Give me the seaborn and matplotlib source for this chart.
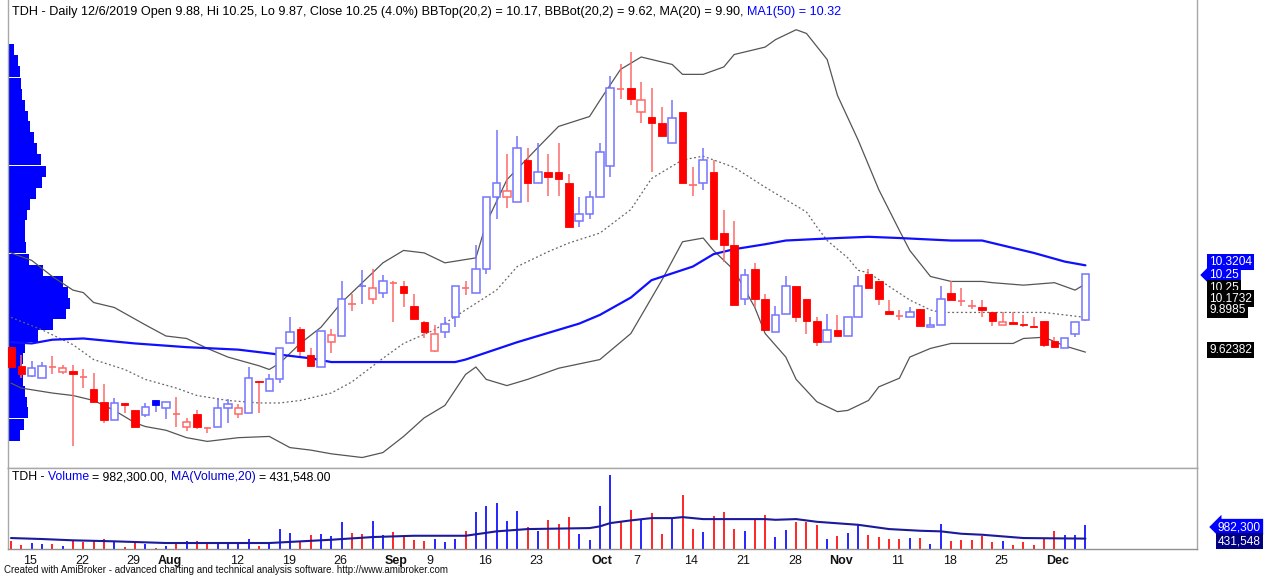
import numpy as np
import pandas as pd
import matplotlib
matplotlib.use("Agg")
import matplotlib.pyplot as plt
import matplotlib.transforms as mtransforms
from matplotlib.patches import Rectangle
import seaborn as sns

# ---------------- data ----------------
trade_dates = pd.bdate_range("2019-07-12", "2019-12-06").drop(pd.Timestamp("2019-09-02"))

opens = [9.66, 9.51, 9.43, 9.41, 9.50, 9.46, 9.47, 9.42, 9.32, 9.22,
         9.07, 9.21, 9.15, 9.11, 9.23, 9.17, 9.12, 9.02, 9.12, 9.01,
         9.02, 9.17, 9.12, 9.13, 9.39, 9.31, 9.40, 9.69, 9.81, 9.60,
         9.50, 9.70, 9.75, 10.01, 10.15, 10.05, 10.10, 10.18, 10.15, 9.99,
         9.86, 9.63, 9.78, 9.90, 10.14, 10.10, 10.29, 10.87, 10.87, 10.83,
         11.17, 10.98, 11.07, 11.07, 10.98, 10.68, 10.73, 10.87, 11.12, 11.74,
         11.75, 11.56, 11.52, 11.47, 11.31, 11.56, 10.97, 10.98, 11.07, 10.58,
         10.48, 10.05, 10.29, 10.05, 9.78, 9.93, 10.15, 10.05, 9.87, 9.70,
         9.80, 9.75, 9.90, 10.25, 10.19, 9.95, 9.91, 9.90, 9.97, 9.82,
         9.84, 10.10, 10.03, 9.99, 9.98, 9.94, 9.84, 9.86, 9.85, 9.83,
         9.87, 9.71, 9.65, 9.77, 9.88]
highs = [9.66, 9.60, 9.55, 9.54, 9.59, 9.52, 9.52, 9.48, 9.45, 9.36,
         9.25, 9.21, 9.15, 9.21, 9.23, 9.22, 9.26, 9.09, 9.15, 9.02,
         9.25, 9.24, 9.20, 9.50, 9.39, 9.44, 9.65, 9.90, 9.82, 9.65,
         9.79, 9.81, 10.19, 10.09, 10.28, 10.29, 10.24, 10.19, 10.19, 10.09,
         9.87, 9.84, 9.90, 10.15, 10.19, 10.48, 10.87, 11.41, 11.22, 11.36,
         11.27, 11.31, 11.22, 11.31, 11.06, 10.87, 10.92, 11.31, 11.85, 11.94,
         12.04, 11.80, 11.75, 11.60, 11.65, 11.56, 11.11, 11.27, 11.17, 10.77,
         10.68, 10.29, 10.34, 10.09, 9.99, 10.23, 10.15, 10.05, 9.90, 9.93,
         9.92, 9.90, 10.23, 10.29, 10.19, 10.04, 9.96, 9.98, 9.97, 9.90,
         10.15, 10.19, 10.14, 10.04, 10.04, 9.94, 9.94, 9.94, 9.92, 9.90,
         9.87, 9.74, 9.73, 9.86, 10.25]
lows = [9.50, 9.41, 9.42, 9.41, 9.44, 9.44, 8.86, 9.33, 9.22, 9.05,
        9.07, 9.13, 9.02, 9.10, 9.14, 9.08, 9.02, 8.98, 9.00, 8.97,
        9.02, 9.05, 9.09, 9.13, 9.13, 9.31, 9.37, 9.69, 9.59, 9.51,
        9.50, 9.61, 9.75, 9.95, 10.01, 10.01, 10.06, 9.86, 9.98, 9.89,
        9.73, 9.62, 9.73, 9.82, 10.08, 10.10, 10.25, 10.69, 10.78, 10.83,
        10.83, 10.98, 10.88, 10.88, 10.63, 10.63, 10.69, 10.87, 11.03, 11.66,
        11.61, 11.47, 11.07, 11.36, 11.31, 10.98, 10.88, 10.93, 10.53, 10.35,
        10.00, 10.00, 9.98, 9.80, 9.78, 9.93, 9.86, 9.77, 9.67, 9.70,
        9.75, 9.75, 9.90, 10.14, 10.00, 9.93, 9.88, 9.90, 9.83, 9.82,
        9.84, 10.04, 9.99, 9.97, 9.90, 9.83, 9.84, 9.85, 9.82, 9.82,
        9.66, 9.66, 9.65, 9.74, 9.87]
closes = [9.50, 9.44, 9.49, 9.51, 9.50, 9.49, 9.44, 9.42, 9.22, 9.07,
          9.21, 9.19, 9.02, 9.18, 9.19, 9.22, 9.12, 9.06, 9.02, 9.01,
          9.17, 9.20, 9.17, 9.41, 9.38, 9.40, 9.65, 9.78, 9.63, 9.51,
          9.79, 9.76, 10.05, 10.01, 10.15, 10.14, 10.19, 10.18, 10.10, 9.89,
          9.78, 9.77, 9.85, 10.15, 10.14, 10.29, 10.87, 10.98, 10.92, 11.27,
          10.98, 11.07, 11.03, 11.02, 10.63, 10.73, 10.87, 11.23, 11.75, 11.74,
          11.66, 11.65, 11.47, 11.36, 11.51, 10.98, 10.97, 11.17, 10.53, 10.48,
          10.00, 10.24, 10.05, 9.80, 9.92, 10.15, 9.90, 9.87, 9.70, 9.80,
          9.75, 9.90, 10.15, 10.14, 10.05, 9.93, 9.91, 9.94, 9.83, 9.84,
          10.05, 10.04, 10.03, 9.99, 9.96, 9.87, 9.86, 9.85, 9.84, 9.82,
          9.68, 9.66, 9.73, 9.86, 10.25]
volumes_k = [319, 178, 249, 207, 207, 137, 385, 278, 385, 427,
             319, 83, 278, 220, 41, 137, 249, 344, 319, 249,
             249, 220, 249, 415, 137, 249, 829, 663, 344, 593,
             634, 526, 1107, 663, 634, 1148, 593, 692, 526, 385,
             344, 415, 278, 415, 734, 1521, 1770, 1907, 1148, 1563,
             912, 734, 1190, 1049, 1314, 634, 385, 1795, 3080, 1173,
             1629, 1215, 1492, 634, 1285, 2226, 829, 692, 1355, 1534,
             829, 746, 1190, 1422, 485, 775, 1132, 1107, 982, 415,
             539, 663, 982, 568, 497, 427, 415, 456, 456, 220,
             1049, 344, 385, 385, 551, 303, 319, 178, 278, 178,
             415, 734, 568, 568, 982.3]

bb_top_idx = [0, 2, 4, 6, 7, 8, 10, 13, 15, 17, 19, 21, 24, 25, 26, 28, 30, 32, 34, 36,
              38, 40, 42, 45, 46, 48, 51, 53, 56, 57, 59, 61, 64, 65, 67, 69, 70, 73, 74, 76,
              77, 79, 80, 82, 84, 86, 87, 89, 91, 94, 95, 98, 101, 103, 104]
bb_top_val = [10.42, 10.36, 10.23, 10.12, 10.10, 10.02, 9.98, 9.84, 9.75, 9.73, 9.65, 9.58, 9.51, 9.48, 9.53, 9.69, 9.82, 10.02, 10.18, 10.34,
              10.44, 10.42, 10.34, 10.38, 10.66, 11.01, 11.27, 11.44, 11.52, 11.65, 11.90, 12.00, 11.94, 11.86, 11.86, 11.92, 12.02, 12.08, 12.14, 12.22,
              12.19, 11.98, 11.69, 11.33, 10.93, 10.60, 10.44, 10.23, 10.19, 10.19, 10.18, 10.16, 10.18, 10.12, 10.17]
bb_bot_idx = [0, 1, 4, 6, 8, 10, 12, 13, 15, 17, 19, 22, 25, 27, 29, 31, 34, 36, 38, 40,
              42, 44, 45, 46, 48, 50, 53, 57, 60, 63, 65, 67, 68, 70, 72, 73, 75, 76, 78, 80,
              81, 83, 84, 86, 87, 89, 91, 94, 97, 98, 100, 102, 104]
bb_bot_val = [9.37, 9.33, 9.29, 9.27, 9.23, 9.15, 9.05, 9.02, 8.99, 8.93, 8.90, 8.93, 8.94, 8.85, 8.83, 8.80, 8.77, 8.81, 8.94, 9.09,
              9.19, 9.44, 9.50, 9.40, 9.35, 9.40, 9.49, 9.56, 9.77, 10.20, 10.51, 10.54, 10.44, 10.28, 9.98, 9.77, 9.58, 9.40, 9.22, 9.14,
              9.15, 9.23, 9.34, 9.41, 9.58, 9.65, 9.69, 9.69, 9.69, 9.73, 9.74, 9.67, 9.62]
ma20_idx = [0, 3, 6, 8, 11, 13, 16, 18, 21, 24, 26, 28, 31, 33, 36, 38, 41, 44, 47, 49,
            52, 54, 57, 60, 62, 65, 67, 70, 73, 75, 77, 78, 79, 81, 82, 83, 85, 87, 89, 90,
            94, 100, 102, 104]
ma20_val = [9.90, 9.80, 9.68, 9.56, 9.48, 9.40, 9.33, 9.27, 9.23, 9.21, 9.21, 9.23, 9.29, 9.38, 9.57, 9.69, 9.80, 9.96, 10.12, 10.31,
            10.43, 10.50, 10.58, 10.77, 11.02, 11.17, 11.20, 11.11, 10.95, 10.85, 10.75, 10.63, 10.52, 10.38, 10.28, 10.26, 10.15, 10.04, 9.96, 9.94,
            9.94, 9.94, 9.92, 9.90]
ma50_idx = [0, 2, 4, 7, 12, 17, 22, 26, 29, 31, 35, 40, 43, 44, 49, 55, 57, 60, 62, 66,
            68, 70, 73, 75, 80, 83, 86, 91, 94, 96, 99, 102, 104]
ma50_val = [9.70, 9.69, 9.72, 9.73, 9.69, 9.66, 9.64, 9.60, 9.57, 9.54, 9.54, 9.54, 9.54, 9.56, 9.70, 9.85, 9.92, 10.06, 10.20, 10.31,
            10.41, 10.45, 10.49, 10.52, 10.54, 10.55, 10.54, 10.52, 10.52, 10.48, 10.42, 10.35, 10.32]
vol_ma_idx = [0, 3, 6, 10, 15, 25, 31, 35, 39, 44, 47, 50, 56, 57, 58, 60, 62, 64, 65, 67,
              73, 74, 76, 78, 82, 85, 88, 90, 92, 94, 98, 104]
vol_ma_k = [456, 415, 361, 319, 249, 249, 385, 497, 551, 551, 734, 829, 870, 941, 1078, 1190, 1285, 1285, 1326, 1244,
            1244, 1215, 1244, 1132, 1007, 829, 759, 734, 634, 593, 456, 432]

vp_price = [12.06, 11.97, 11.88, 11.79, 11.70, 11.61, 11.52, 11.44, 11.35, 11.26,
            11.17, 11.08, 10.99, 10.90, 10.81, 10.73, 10.64, 10.55, 10.46, 10.37,
            10.28, 10.19, 10.10, 10.01, 9.93, 9.84, 9.75, 9.66, 9.57, 9.48,
            9.39, 9.30, 9.21, 9.13, 9.04, 8.95]
vp_volume_k = [600, 1000, 1200, 1300, 1400, 1700, 2000, 2200, 2600, 2900,
               3300, 3800, 3400, 2800, 2200, 1900, 1700, 1700, 1800, 2100,
               3500, 5500, 6000, 6200, 5800, 4500, 3000, 1700, 1500, 1400,
               1500, 1700, 1900, 2000, 1600, 1200]

tick_dates = ["2019-07-15", "2019-07-22", "2019-07-29", "2019-08-01", "2019-08-12", "2019-08-19",
              "2019-08-26", "2019-09-03", "2019-09-09", "2019-09-16", "2019-09-23", "2019-10-01",
              "2019-10-07", "2019-10-14", "2019-10-21", "2019-10-28", "2019-11-01", "2019-11-11",
              "2019-11-18", "2019-11-25", "2019-12-02"]
tick_labels = ["15", "22", "29", "Aug", "12", "19", "26", "Sep", "9", "16", "23", "Oct",
               "7", "14", "21", "28", "Nov", "11", "18", "25", "Dec"]

price_title = [("TDH - Daily 12/6/2019 Open 9.88, Hi 10.25, Lo 9.87, Close 10.25 (4.0%) "
                "BBTop(20,2) = 10.17, BBBot(20,2) = 9.62, MA(20) = 9.90, ", "#000000"),
               ("MA1(50) = 10.32", "#0000ff")]
volume_title = [("TDH - ", "#000000"), ("Volume ", "#0000ff"), ("= 982,300.00, ", "#000000"),
                ("MA(Volume,20) ", "#0000cc"), ("= 431,548.00", "#000000")]
price_tags = ["10.3204", "10.25", "10.25", "10.1732", "9.8985", "9.62382"]
volume_tags = ["982,300", "431,548"]
footer = ("Created with AmiBroker - advanced charting and technical analysis software. "
          "http://www.amibroker.com")

# ---------------- style ----------------
sns.set_theme(style="white")
plt.rcParams["font.family"] = ["Liberation Sans", "DejaVu Sans"]

W, H = 1265, 578
fig = plt.figure(figsize=(W / 100, H / 100), dpi=100)
fig.patch.set_facecolor("white")


def fx(px):
    return px / W


def fy(py):
    return 1 - py / H


ax = fig.add_axes([fx(8), fy(468), fx(1197) - fx(8), fy(0) - fy(468)])
axv = fig.add_axes([fx(8), fy(549), fx(1197) - fx(8), fy(468) - fy(549)], sharex=ax)

n = len(closes)
idx = np.arange(n)
XMIN, XMAX = -0.29, 114.8
ax.set_xlim(XMIN, XMAX)
px_per_unit = 124.0
ax.set_ylim(10.25 - 194 / px_per_unit, 10.25 + 274 / px_per_unit)

# volume at price profile
vp_vol = np.array(vp_volume_k, dtype=float)
vp_w = vp_vol / vp_vol.max() * 6.0
ax.barh(vp_price, vp_w, height=0.089, left=XMIN, color="#0000ff", linewidth=0, zorder=1)

# indicator lines
sns.lineplot(x=bb_top_idx, y=bb_top_val, ax=ax, color="#555555", linewidth=0.9, zorder=2)
sns.lineplot(x=bb_bot_idx, y=bb_bot_val, ax=ax, color="#555555", linewidth=0.9, zorder=2)
sns.lineplot(x=ma20_idx, y=ma20_val, ax=ax, color="#666666", linewidth=0.9,
             linestyle=(0, (1.5, 2.0)), zorder=2)
sns.lineplot(x=ma50_idx, y=ma50_val, ax=ax, color="#1010ff", linewidth=1.6, zorder=2)

# candles
bw = 0.72
for i in range(n):
    o, h, l, c = opens[i], highs[i], lows[i], closes[i]
    ref = closes[i - 1] if i > 0 else o
    up = c > ref
    base = "#0000ff" if up else "#ff0000"
    light = "#7474ff" if up else "#ff6a6a"
    ax.vlines(i, l, h, color=light, linewidth=1.1, zorder=3)
    if c < o:
        ax.add_patch(Rectangle((i - bw / 2, c), bw, o - c, facecolor=base,
                               edgecolor=base, linewidth=0.6, zorder=4))
    elif c > o:
        ax.add_patch(Rectangle((i - bw / 2, o), bw, c - o, facecolor="white",
                               edgecolor=light, linewidth=1.1, zorder=4))
    else:
        ax.hlines(c, i - bw / 2, i + bw / 2, color=light, linewidth=1.2, zorder=4)

# volume pane
vols = np.array(volumes_k) * 1000
vcols = ["#0000ff" if closes[i] > opens[i] else "#ff0000" for i in range(n)]
axv.vlines(idx, 0, vols, colors=vcols, linewidth=1.2, zorder=2)
sns.lineplot(x=vol_ma_idx, y=np.array(vol_ma_k) * 1000, ax=axv, color="#1a1a9a",
             linewidth=1.5, zorder=3)
axv.set_ylim(0, 81.3 * 41450)

for a in (ax, axv):
    a.set_yticks([])
    a.set_ylabel("")
    a.set_xlabel("")
    for s in a.spines.values():
        s.set_color("#a8a8a8")
        s.set_linewidth(1.0)
    a.set_facecolor("white")
ax.spines["top"].set_visible(False)
axv.spines["bottom"].set_color("#909090")
ax.tick_params(axis="x", which="both", bottom=False, labelbottom=False)

tick_pos = [trade_dates.get_loc(pd.Timestamp(d)) for d in tick_dates]
axv.set_xticks(tick_pos)
axv.set_xticklabels(tick_labels)
axv.tick_params(axis="x", direction="inout", length=7, width=0.9, color="#a0a0a0",
                pad=1, labelsize=9, labelcolor="#111111")
offset = mtransforms.ScaledTranslation(2 / 100, 0, fig.dpi_scale_trans)
for lab in axv.get_xticklabels():
    lab.set_ha("left")
    lab.set_transform(lab.get_transform() + offset)
    if lab.get_text() in ("Aug", "Sep", "Oct", "Nov", "Dec"):
        lab.set_fontweight("bold")

# titles
fig.canvas.draw()
renderer = fig.canvas.get_renderer()


def text_width(s, size):
    t1 = fig.text(0, 0, s + "|", fontsize=size)
    t2 = fig.text(0, 0, "|", fontsize=size)
    w = t1.get_window_extent(renderer=renderer).width - t2.get_window_extent(renderer=renderer).width
    t1.remove()
    t2.remove()
    return w


def seq_text(x_px, y_px, parts, size):
    x = x_px
    for s, col in parts:
        fig.text(fx(x), fy(y_px), s, color=col, fontsize=size, va="center", ha="left")
        x += text_width(s, size)


seq_text(12, 12.5, price_title, 9.1)
seq_text(12, 477, volume_title, 8.8)
fig.text(fx(4), fy(570), footer, fontsize=7.0, va="center", ha="left", color="#111111")

# right value tags
tag_y = [262, 275, 288, 298.5, 310, 350]
tag_bg = ["#0000ff", "#0000ff", "#000000", "#000000", "#000000", "#000000"]
for k, (txt, yy, bg) in enumerate(zip(price_tags, tag_y, tag_bg)):
    style = "larrow,pad=0.18" if k == 1 else "square,pad=0.18"
    fig.text(fx(1209), fy(yy), txt, color="white", fontsize=8.6, va="center", ha="left",
             bbox=dict(boxstyle=style, facecolor=bg, edgecolor="none"))
fig.text(fx(1218), fy(527), volume_tags[0], color="white", fontsize=8.6, va="center", ha="left",
         bbox=dict(boxstyle="larrow,pad=0.18", facecolor="#0000ff", edgecolor="none"))
fig.text(fx(1218), fy(541), volume_tags[1], color="white", fontsize=8.6, va="center", ha="left",
         bbox=dict(boxstyle="square,pad=0.18", facecolor="#000080", edgecolor="none"))

fig.savefig("out.png", dpi=100, facecolor="white")
